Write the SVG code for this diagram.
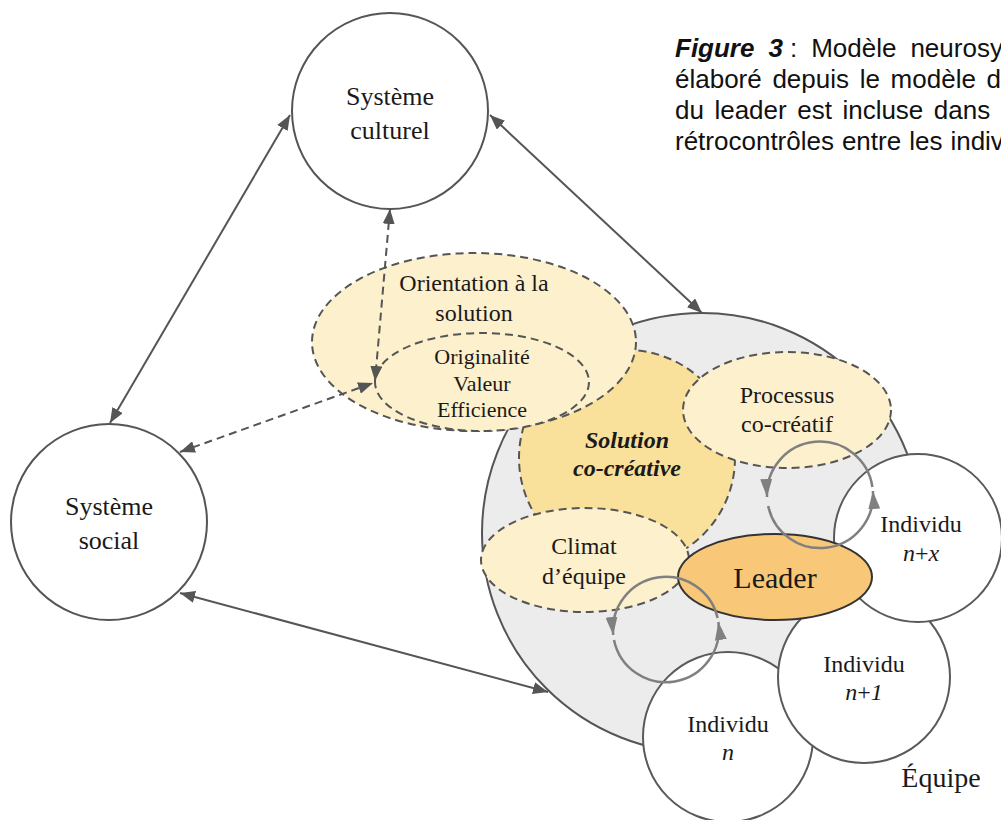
<svg xmlns="http://www.w3.org/2000/svg" width="1001" height="820" viewBox="0 0 1001 820">
<defs>
<style>
.sys{fill:#fff;stroke:#555;stroke-width:2}
.ind{fill:#fff;stroke:#5a5a5a;stroke-width:2}
.lt{fill:#fdf0cc;stroke:#555;stroke-width:2;stroke-dasharray:8 5}
.t{font-family:"Liberation Serif","Times New Roman",serif;fill:#1a1a1a;text-anchor:middle}
.cap{font-family:"Liberation Sans",Arial,sans-serif;font-size:26px;fill:#111}
.conn{stroke:#555;stroke-width:2;fill:none}
.dash{stroke-dasharray:8 5}
.loop{stroke:#808080;stroke-width:2.5;fill:none}
.it{font-style:italic}
</style>
<marker id="ah" markerUnits="userSpaceOnUse" markerWidth="16" markerHeight="12" refX="15" refY="6" orient="auto-start-reverse"><path d="M0,0 L15,6 L0,12 z" fill="#555"/></marker>
<marker id="lh" markerUnits="userSpaceOnUse" markerWidth="19" markerHeight="12" refX="18" refY="6" orient="auto"><path d="M0,0 L18,6 L0,12 z" fill="#808080"/></marker>
</defs>
<rect width="1001" height="820" fill="#fff"/>

<g id="caption" class="cap">
<text y="57"><tspan x="675" font-weight="bold" font-style="italic">Figure</tspan><tspan x="768.4" font-weight="bold" font-style="italic">3</tspan><tspan x="790.1">:</tspan><tspan x="811.2">Modèle</tspan><tspan x="910.4">neurosy</tspan></text>
<text y="88"><tspan x="675">élaboré</tspan><tspan x="772.4">depuis</tspan><tspan x="859.7">le</tspan><tspan x="890.6">modèle</tspan><tspan x="986.6">d</tspan></text>
<text y="119"><tspan x="675">du</tspan><tspan x="714.4">leader</tspan><tspan x="797.2">est</tspan><tspan x="842.4">incluse</tspan><tspan x="933.8">dans</tspan></text>
<text y="150"><tspan x="675">rétrocontrôles</tspan><tspan x="841.9">entre</tspan><tspan x="909.2">les</tspan><tspan x="950.4">indiv</tspan></text>
</g>

<g id="equipe">
<circle cx="702" cy="533" r="220" fill="#ececec" stroke="#555" stroke-width="2"/>
<text class="t" x="941" y="787" font-size="28">Équipe</text>
</g>

<g id="solution">
<circle cx="627" cy="458" r="108" fill="#f9e09b" stroke="#555" stroke-width="2" stroke-dasharray="8 5"/>
</g>

<g id="orientation">
<ellipse class="lt" cx="474" cy="342" rx="162" ry="89"/>
<text class="t" font-size="24"><tspan x="474" y="291">Orientation à la</tspan><tspan x="474" y="321">solution</tspan></text>
</g>

<g id="criteres">
<ellipse class="lt" cx="482" cy="382" rx="107" ry="49"/>
<text class="t" font-size="22"><tspan x="482" y="364">Originalité</tspan><tspan x="482" y="391">Valeur</tspan><tspan x="482" y="417">Efficience</tspan></text>
</g>

<g id="solution-label">
<text class="t" font-size="24" font-weight="bold" font-style="italic"><tspan x="627" y="448">Solution</tspan><tspan x="627" y="476">co-créative</tspan></text>
</g>

<g id="processus">
<ellipse class="lt" cx="787" cy="410" rx="104" ry="58"/>
<text class="t" font-size="24"><tspan x="787" y="403">Processus</tspan><tspan x="787" y="432">co-créatif</tspan></text>
</g>

<g id="climat">
<ellipse class="lt" cx="585" cy="560" rx="104" ry="52"/>
<text class="t" font-size="24"><tspan x="584" y="554">Climat</tspan><tspan x="584" y="584">d’équipe</tspan></text>
</g>

<g id="individu-n">
<circle class="ind" cx="728" cy="737" r="85"/>
<text class="t" font-size="24"><tspan x="728" y="732">Individu</tspan><tspan x="728" y="760" class="it">n</tspan></text>
</g>

<g id="individu-n1">
<circle class="ind" cx="864" cy="677" r="86"/>
<text class="t" font-size="24"><tspan x="864" y="672">Individu</tspan><tspan x="864" y="700"><tspan class="it">n</tspan>+<tspan class="it">1</tspan></tspan></text>
</g>

<g id="individu-nx">
<circle class="ind" cx="918" cy="538" r="84"/>
<text class="t" font-size="24"><tspan x="921" y="532">Individu</tspan><tspan x="921" y="561"><tspan class="it">n</tspan>+<tspan class="it">x</tspan></tspan></text>
</g>

<g id="leader">
<ellipse cx="775" cy="577" rx="97" ry="43" fill="#f8c878" stroke="#333" stroke-width="2"/>
<text class="t" x="775" y="588" font-size="30">Leader</text>
</g>

<g id="culturel">
<circle class="sys" cx="390" cy="111" r="98"/>
<text class="t" font-size="26"><tspan x="390" y="105">Système</tspan><tspan x="390" y="139">culturel</tspan></text>
</g>

<g id="social">
<circle class="sys" cx="109" cy="522" r="98"/>
<text class="t" font-size="26"><tspan x="109" y="515">Système</tspan><tspan x="109" y="549">social</tspan></text>
</g>

<g id="loops">
<path class="loop" d="M872.4,487 A53,53 0 0 0 767,497" marker-end="url(#lh)"/>
<path class="loop" d="M768.2,506 A53,53 0 0 0 872.9,491" marker-end="url(#lh)"/>
<path class="loop" d="M717.6,618 A53,53 0 0 0 613.2,635" marker-end="url(#lh)"/>
<path class="loop" d="M614,640 A53,53 0 0 0 718.4,622" marker-end="url(#lh)"/>
</g>

<g id="connectors">
<line class="conn" x1="290" y1="115" x2="110" y2="423" marker-start="url(#ah)" marker-end="url(#ah)"/>
<line class="conn" x1="490" y1="115" x2="702" y2="313" marker-start="url(#ah)" marker-end="url(#ah)"/>
<line class="conn" x1="180" y1="593" x2="548" y2="692" marker-start="url(#ah)" marker-end="url(#ah)"/>
<line class="conn dash" x1="180" y1="452" x2="373" y2="383" marker-start="url(#ah)" marker-end="url(#ah)"/>
<line class="conn dash" x1="390" y1="209" x2="375" y2="381" marker-start="url(#ah)" marker-end="url(#ah)"/>
</g>
</svg>
